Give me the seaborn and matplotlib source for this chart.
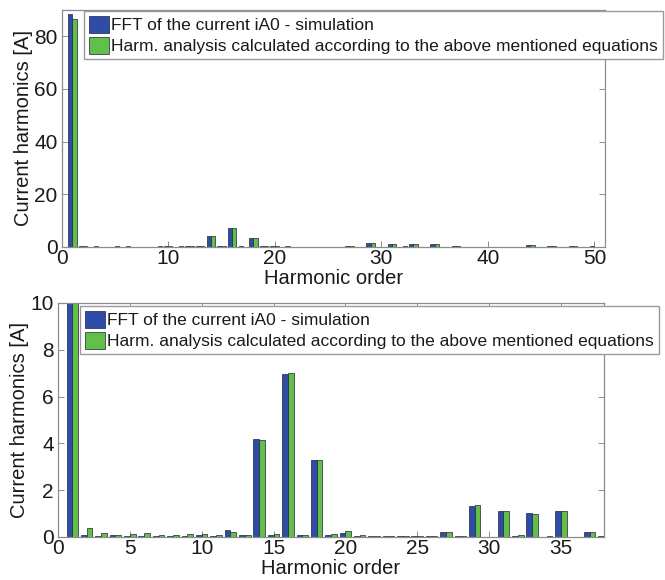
import numpy as np
import pandas as pd
import matplotlib
matplotlib.use("Agg")
import matplotlib.pyplot as plt
import seaborn as sns

# Harmonic orders and amplitudes [A]
harmonics = list(range(1, 51))
fft_sim = [88.5, 0.08, 0.03, 0.07, 0.05, 0.03, 0.05, 0.05, 0.05, 0.08,
           0.05, 0.32, 0.08, 4.20, 0.08, 6.95, 0.10, 3.27, 0.10, 0.15,
           0.03, 0.04, 0.03, 0.03, 0.03, 0.03, 0.20, 0.05, 1.33, 0.02,
           1.10, 0.04, 1.02, 0.02, 1.12, 0.02, 0.20, 0.03, 0.03, 0.03,
           0.03, 0.03, 0.05, 0.55, 0.03, 0.20, 0.03, 0.30, 0.03, 0.10]
harm_calc = [86.5, 0.37, 0.17, 0.07, 0.12, 0.19, 0.07, 0.07, 0.12, 0.12,
             0.09, 0.22, 0.09, 4.13, 0.13, 7.00, 0.07, 3.30, 0.13, 0.27,
             0.08, 0.05, 0.03, 0.05, 0.04, 0.03, 0.23, 0.03, 1.35, 0.02,
             1.12, 0.08, 0.99, 0.04, 1.12, 0.02, 0.20, 0.03, 0.03, 0.03,
             0.03, 0.03, 0.05, 0.60, 0.03, 0.15, 0.03, 0.25, 0.03, 0.05]
series_names = ["FFT of the current iA0 - simulation",
                "Harm. analysis calculated according to the above mentioned equations"]
colors = ["#2f4da6", "#62c04a"]

xticks_top = [0, 10, 20, 30, 40, 50]
yticks_top = [0, 20, 40, 60, 80]
xticks_bot = [0, 5, 10, 15, 20, 25, 30, 35]
yticks_bot = [0, 2, 4, 6, 8, 10]

df = pd.DataFrame({
    "order": harmonics * 2,
    "amp": fft_sim + harm_calc,
    "source": [series_names[0]] * len(harmonics) + [series_names[1]] * len(harmonics),
})

sns.set_style("ticks", {"xtick.direction": "in", "ytick.direction": "in",
                        "axes.edgecolor": "#8c8c8c"})
plt.rcParams["font.family"] = ["Liberation Sans", "DejaVu Sans"]
plt.rcParams["xtick.top"] = True
plt.rcParams["ytick.right"] = True

fig = plt.figure(figsize=(6.65, 5.8), dpi=100)
W, H = 665.0, 580.0
ax_top = fig.add_axes([61.7 / W, 1 - 246.7 / H, (605 - 61.7) / W, (246.7 - 10) / H])
ax_bot = fig.add_axes([58 / W, 1 - 537 / H, (604 - 58) / W, (537 - 303) / H])


def draw(ax, xlim, ylim, xt, yt, leg_xy):
    sns.barplot(data=df, x="order", y="amp", hue="source", native_scale=True,
                palette=colors, width=0.8, dodge=True, edgecolor="#1c2140",
                linewidth=0.5, saturation=1, errorbar=None, ax=ax)
    ax.set_xlim(*xlim)
    ax.set_ylim(*ylim)
    ax.set_xticks(xt)
    ax.set_yticks(yt)
    ax.tick_params(axis="both", labelsize=15, length=4, width=0.7,
                   color="#8c8c8c", labelcolor="#1a1a1a", pad=3)
    ax.tick_params(axis="x", pad=1.5)
    for s in ax.spines.values():
        s.set_visible(True)
        s.set_linewidth(0.9)
        s.set_color("#8c8c8c")
    ax.set_xlabel("Harmonic order", fontsize=14.5, labelpad=1, color="#1a1a1a")
    ax.set_ylabel("Current harmonics [A]", fontsize=14.5, labelpad=1, color="#1a1a1a")
    handles, labels = ax.get_legend_handles_labels()
    leg = ax.legend(handles, labels, loc="upper left",
                    bbox_to_anchor=(leg_xy[0] / W, 1 - leg_xy[1] / H),
                    bbox_transform=fig.transFigure, fontsize=12.5,
                    frameon=True, fancybox=False, framealpha=1,
                    edgecolor="#9a9a9a", borderpad=0.3, labelspacing=0.2,
                    handlelength=1.15, handleheight=1.1, handletextpad=0.1,
                    borderaxespad=0)
    leg.get_frame().set_linewidth(1.0)
    for t in leg.get_texts():
        t.set_color("#1a1a1a")


draw(ax_top, (0, 51), (0, 90), xticks_top, yticks_top, (84, 11))
draw(ax_bot, (0, 38), (0, 10), xticks_bot, yticks_bot, (80, 306))

fig.savefig("out.png", dpi=100)
